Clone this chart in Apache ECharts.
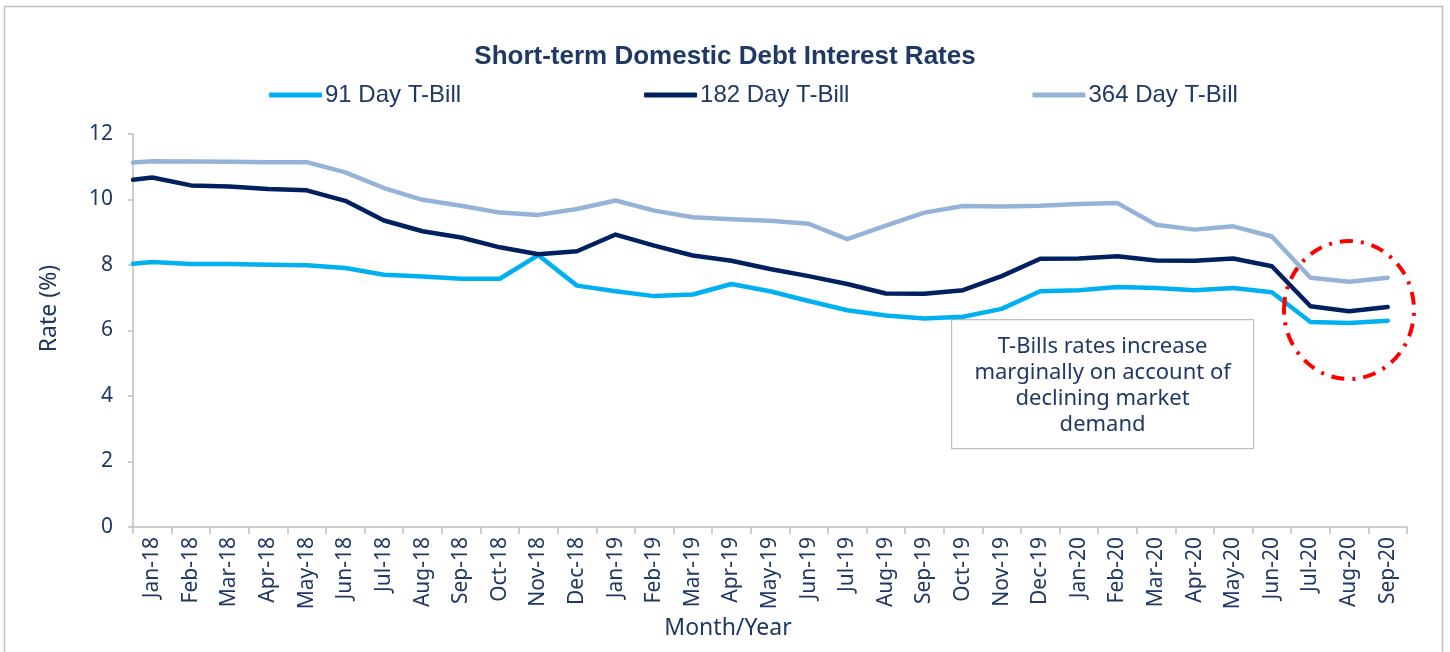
<!DOCTYPE html>
<html>
<head>
<meta charset="utf-8">
<title>Short-term Domestic Debt Interest Rates</title>
<script src="https://cdn.jsdelivr.net/npm/echarts@6/dist/echarts.min.js"></script>
<style>
  html, body { margin: 0; padding: 0; background: #fff; }
  #chart { width: 1450px; height: 652px; }
</style>
</head>
<body>
<div id="chart"></div>
<script>
// months on the category axis
const months = [
  'Jan-18', 'Feb-18', 'Mar-18', 'Apr-18', 'May-18', 'Jun-18', 'Jul-18', 'Aug-18', 'Sep-18', 'Oct-18', 'Nov-18', 'Dec-18',
  'Jan-19', 'Feb-19', 'Mar-19', 'Apr-19', 'May-19', 'Jun-19', 'Jul-19', 'Aug-19', 'Sep-19', 'Oct-19', 'Nov-19', 'Dec-19',
  'Jan-20', 'Feb-20', 'Mar-20', 'Apr-20', 'May-20', 'Jun-20', 'Jul-20', 'Aug-20', 'Sep-20'
];
const yTicks = [0, 2, 4, 6, 8, 10, 12];

// rate where each line leaves the y axis (before Jan-18)
const open91 = 8.04;
const open182 = 10.6;
const open364 = 11.13;

// monthly rates (%)
const rate91 = [
  8.09, 8.03, 8.03, 8.01, 7.99, 7.91, 7.70, 7.65, 7.58, 7.58, 8.30, 7.37,
  7.20, 7.05, 7.10, 7.42, 7.20, 6.90, 6.62, 6.46, 6.37, 6.42, 6.66, 7.20,
  7.23, 7.33, 7.30, 7.23, 7.30, 7.17, 6.26, 6.23, 6.30
];
const rate182 = [
  10.67, 10.43, 10.40, 10.32, 10.28, 9.96, 9.36, 9.03, 8.84, 8.54, 8.33, 8.42,
  8.93, 8.59, 8.29, 8.13, 7.88, 7.66, 7.42, 7.13, 7.12, 7.23, 7.66, 8.19,
  8.20, 8.27, 8.14, 8.13, 8.20, 7.96, 6.74, 6.59, 6.72
];
const rate364 = [
  11.17, 11.16, 11.15, 11.14, 11.14, 10.83, 10.35, 9.99, 9.81, 9.60, 9.53, 9.71,
  9.97, 9.66, 9.46, 9.40, 9.35, 9.26, 8.79, 9.20, 9.60, 9.80, 9.79, 9.81,
  9.86, 9.89, 9.23, 9.08, 9.18, 8.87, 7.61, 7.49, 7.61
];

const navy = '#1f3864';
const font = "'Noto Sans', 'DejaVu Sans', sans-serif";

// put each month at the centre of its category slot on the hidden value axis
function toPoints(open, values) {
  const pts = [[0, open]];
  values.forEach(function (v, i) {
    pts.push([i + 0.5, v]);
  });
  return pts;
}

function makeLine(name, color, open, values) {
  return {
    name: name,
    type: 'line',
    xAxisIndex: 1,
    symbol: 'none',
    lineStyle: { color: color, width: 4.5, cap: 'round', join: 'round' },
    itemStyle: { color: color },
    data: toPoints(open, values)
  };
}

const myChart = echarts.init(document.getElementById('chart'));

const option = {
  animation: false,
  textStyle: { fontFamily: font },
  title: {
    text: 'Short-term Domestic Debt Interest Rates',
    left: 'center',
    top: 39,
    textStyle: { color: navy, fontSize: 26, fontWeight: 'bold', fontFamily: "'Liberation Sans', sans-serif" }
  },
  legend: {
    top: 78,
    left: 264,
    icon: 'roundRect',
    itemWidth: 53,
    itemHeight: 5,
    itemGap: 183,
    textStyle: { color: navy, fontSize: 24, fontFamily: "'Liberation Sans', sans-serif", padding: [0, 0, 0, -2] },
    data: ['91 Day T-Bill', '182 Day T-Bill', '364 Day T-Bill']
  },
  grid: { left: 133, right: 43, top: 134, bottom: 125, containLabel: false },
  xAxis: [
    {
      type: 'category',
      data: months,
      boundaryGap: true,
      name: 'Month/Year',
      nameLocation: 'middle',
      nameGap: 88,
      nameTextStyle: { color: navy, fontSize: 23, fontFamily: font, padding: [0, 84, 0, 0] },
      axisLine: { lineStyle: { color: '#bfbfbf', width: 1.5 } },
      axisTick: { show: true, alignWithLabel: false, length: 7, lineStyle: { color: '#bfbfbf', width: 1.5 } },
      axisLabel: { interval: 0, rotate: 90, color: navy, fontSize: 21, margin: 10, fontFamily: font },
      splitLine: { show: false }
    },
    {
      type: 'value',
      min: 0,
      max: months.length,
      show: false
    }
  ],
  yAxis: {
    type: 'value',
    min: yTicks[0],
    max: yTicks[yTicks.length - 1],
    interval: 2,
    name: 'Rate (%)',
    nameLocation: 'middle',
    nameGap: 72,
    nameTextStyle: { color: navy, fontSize: 23, fontFamily: font, padding: [0, 0, 0, 44] },
    axisLine: { show: true, lineStyle: { color: '#bfbfbf', width: 1.5 } },
    axisTick: { show: true, length: 5, lineStyle: { color: '#bfbfbf', width: 1.5 } },
    axisLabel: { color: navy, fontSize: 21, margin: 20, fontFamily: font },
    splitLine: { show: false }
  },
  series: [
    makeLine('91 Day T-Bill', '#00b0f0', open91, rate91),
    makeLine('182 Day T-Bill', '#002060', open182, rate182),
    makeLine('364 Day T-Bill', '#95b3d7', open364, rate364)
  ],
  graphic: [
    {
      // outer frame
      type: 'rect',
      silent: true,
      z: -1,
      shape: { x: 4.5, y: 6.5, width: 1438, height: 660 },
      style: { fill: 'none', stroke: '#bfbfbf', lineWidth: 1.5 }
    },
    {
      type: 'group',
      left: 951,
      top: 319,
      z: 100,
      children: [
        {
          type: 'rect',
          shape: { x: 0, y: 0, width: 302, height: 129 },
          style: { fill: '#fff', stroke: '#bfbfbf', lineWidth: 1.2 }
        },
        {
          type: 'text',
          x: 151,
          y: 14,
          style: {
            text: 'T-Bills rates increase\nmarginally on account of\ndeclining market\ndemand',
            fill: navy,
            font: '22px ' + font,
            lineHeight: 26,
            align: 'center',
            verticalAlign: 'top'
          }
        }
      ]
    },
    {
      type: 'ellipse',
      z: 100,
      shape: { cx: 1349, cy: 310, rx: 65, ry: 69 },
      style: { fill: 'none', stroke: '#ff0000', lineWidth: 4, lineDash: [13, 8, 3, 8] }
    }
  ]
};

myChart.setOption(option);
window.addEventListener('resize', () => {
  myChart.resize();
});
</script>
</body>
</html>
